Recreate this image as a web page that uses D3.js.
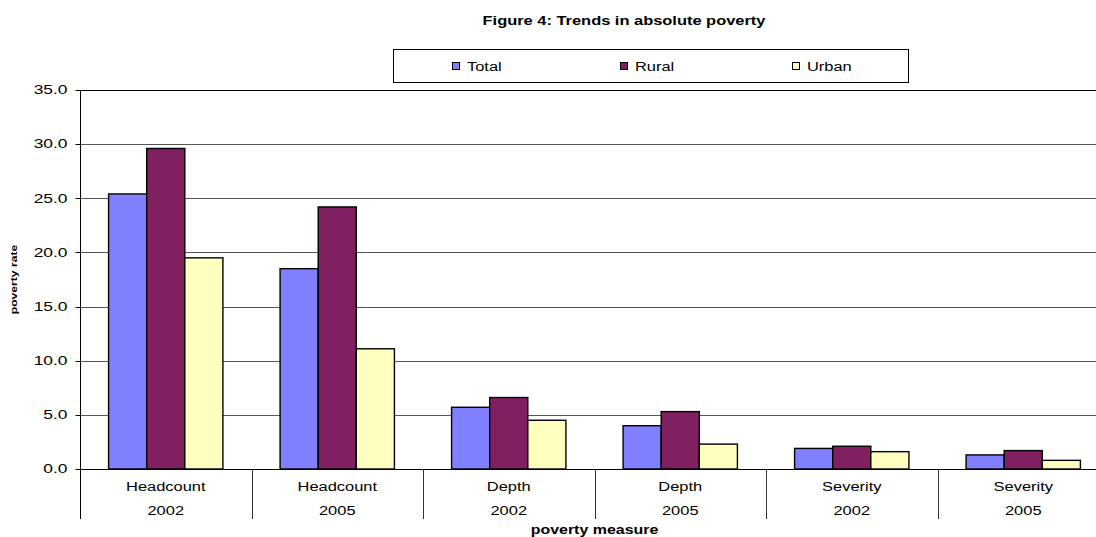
<!DOCTYPE html>
<html>
<head>
<meta charset="utf-8">
<script src="https://cdn.jsdelivr.net/npm/d3@7"></script>
<style>
  html, body { margin: 0; padding: 0; background: #fff; }
  svg { display: block; font-family: "Liberation Sans", Arial, sans-serif; }
</style>
</head>
<body>
<svg id="chart" width="1096" height="537"></svg>
<script>
// ---- data ----
const measures = ["Headcount", "Headcount", "Depth", "Depth", "Severity", "Severity"];
const years = ["2002", "2005", "2002", "2005", "2002", "2005"];
const seriesNames = ["Total", "Rural", "Urban"];
const totalValues = [25.4, 18.5, 5.7, 4.0, 1.9, 1.3];
const ruralValues = [29.6, 24.2, 6.6, 5.3, 2.1, 1.7];
const urbanValues = [19.5, 11.1, 4.5, 2.3, 1.6, 0.8];
const yTicks = [0, 5, 10, 15, 20, 25, 30, 35];
const titleText = "Figure 4: Trends in absolute poverty";
const xTitle = "poverty measure";
const yTitle = "poverty rate";

// ---- layout ----
const W = 1096, H = 537;
const plot = { left: 80, right: 1109, top: 90, bottom: 469 };
const colors = { Total: "#8080ff", Rural: "#802060", Urban: "#ffffc0" };
const SX = 1.37; // horizontal text stretch seen in the reference

const svg = d3.select("#chart");
const cats = measures.map((m, i) => i);
const valuesBySeries = { Total: totalValues, Rural: ruralValues, Urban: urbanValues };

const x0 = d3.scaleBand().domain(cats).range([plot.left, plot.right]).paddingInner(0).paddingOuter(0);
const x1 = d3.scaleBand().domain(seriesNames).range([0, x0.bandwidth()]).paddingInner(0).paddingOuter(0.75);
const y = d3.scaleLinear().domain([0, 35]).range([plot.bottom, plot.top]);

// gridlines
svg.append("g").selectAll("line").data(yTicks.filter(d => d > 0)).join("line")
  .attr("x1", plot.left).attr("x2", plot.right)
  .attr("y1", d => Math.round(y(d)) + 0.5).attr("y2", d => Math.round(y(d)) + 0.5)
  .attr("stroke", d => d === 35 ? "#000" : "#555").attr("stroke-width", 1);

// bars
const rows = cats.map(i => seriesNames.map(s => ({ cat: i, s, v: valuesBySeries[s][i] })));
svg.append("g").selectAll("g").data(rows).join("g")
  .attr("transform", d => `translate(${x0(d[0].cat)},0)`)
  .selectAll("rect").data(d => d).join("rect")
  .attr("x", d => x1(d.s))
  .attr("y", d => y(d.v))
  .attr("width", x1.bandwidth())
  .attr("height", d => y(0) - y(d.v))
  .attr("fill", d => colors[d.s])
  .attr("stroke", "#000").attr("stroke-width", 1.4);

// y axis
const yAxis = svg.append("g").attr("transform", `translate(${plot.left + 0.5},0)`);
yAxis.append("line").attr("x1", 0).attr("x2", 0).attr("y1", plot.top).attr("y2", 519).attr("stroke", "#000");
yAxis.selectAll("line.tick").data(yTicks).join("line").attr("class", "tick")
  .attr("x1", -5).attr("x2", 0)
  .attr("y1", d => Math.round(y(d)) + 0.5).attr("y2", d => Math.round(y(d)) + 0.5)
  .attr("stroke", "#000");
yAxis.selectAll("text").data(yTicks).join("text")
  .attr("transform", d => `translate(-13,${y(d) + 4.3}) scale(1.45,1)`)
  .attr("text-anchor", "end").attr("font-size", 12).attr("fill", "#000")
  .text(d => d3.format(".1f")(d));

// x axis baseline
svg.append("line").attr("x1", plot.left).attr("x2", plot.right)
  .attr("y1", Math.round(y(0)) + 0.5).attr("y2", Math.round(y(0)) + 0.5)
  .attr("stroke", "#000");

// category separators
svg.append("g").selectAll("line").data(cats.slice(1)).join("line")
  .attr("x1", d => Math.round(x0(d)) + 0.5).attr("x2", d => Math.round(x0(d)) + 0.5)
  .attr("y1", y(0)).attr("y2", 519).attr("stroke", "#333");

// category labels
const catLabels = svg.append("g");
catLabels.selectAll("text.m").data(cats).join("text").attr("class", "m")
  .attr("transform", d => `translate(${x0(d) + x0.bandwidth() / 2},491) scale(${SX},1)`)
  .attr("text-anchor", "middle").attr("font-size", 12).text(d => measures[d]);
catLabels.selectAll("text.y").data(cats).join("text").attr("class", "y")
  .attr("transform", d => `translate(${x0(d) + x0.bandwidth() / 2},515) scale(${SX},1)`)
  .attr("text-anchor", "middle").attr("font-size", 12).text(d => years[d]);

// axis titles
svg.append("text")
  .attr("transform", `translate(${(plot.left + plot.right) / 2},534) scale(1.33,1)`)
  .attr("text-anchor", "middle").attr("font-size", 12).attr("font-weight", "bold").text(xTitle);
svg.append("text")
  .attr("transform", `translate(17,${(plot.top + plot.bottom) / 2}) rotate(-90) scale(1.35,1)`)
  .attr("text-anchor", "middle").attr("font-size", 9).attr("font-weight", "bold").text(yTitle);

// title
svg.append("text")
  .attr("transform", `translate(624,25) scale(${SX},1)`)
  .attr("text-anchor", "middle").attr("font-size", 12).attr("font-weight", "bold").text(titleText);

// legend
const legend = svg.append("g");
legend.append("rect").attr("x", 393.5).attr("y", 49.5).attr("width", 515).attr("height", 33)
  .attr("fill", "#fff").attr("stroke", "#000");
const legendX = [452, 620, 792];
const li = legend.selectAll("g.item").data(seriesNames).join("g").attr("class", "item")
  .attr("transform", (d, i) => `translate(${legendX[i]},0)`);
li.append("rect").attr("x", 0.5).attr("y", 62.5).attr("width", 7).attr("height", 7)
  .attr("fill", d => colors[d]).attr("stroke", "#000");
li.append("text").attr("transform", `translate(15,70.5) scale(${SX},1)`)
  .attr("font-size", 12).text(d => d);
</script>
</body>
</html>
